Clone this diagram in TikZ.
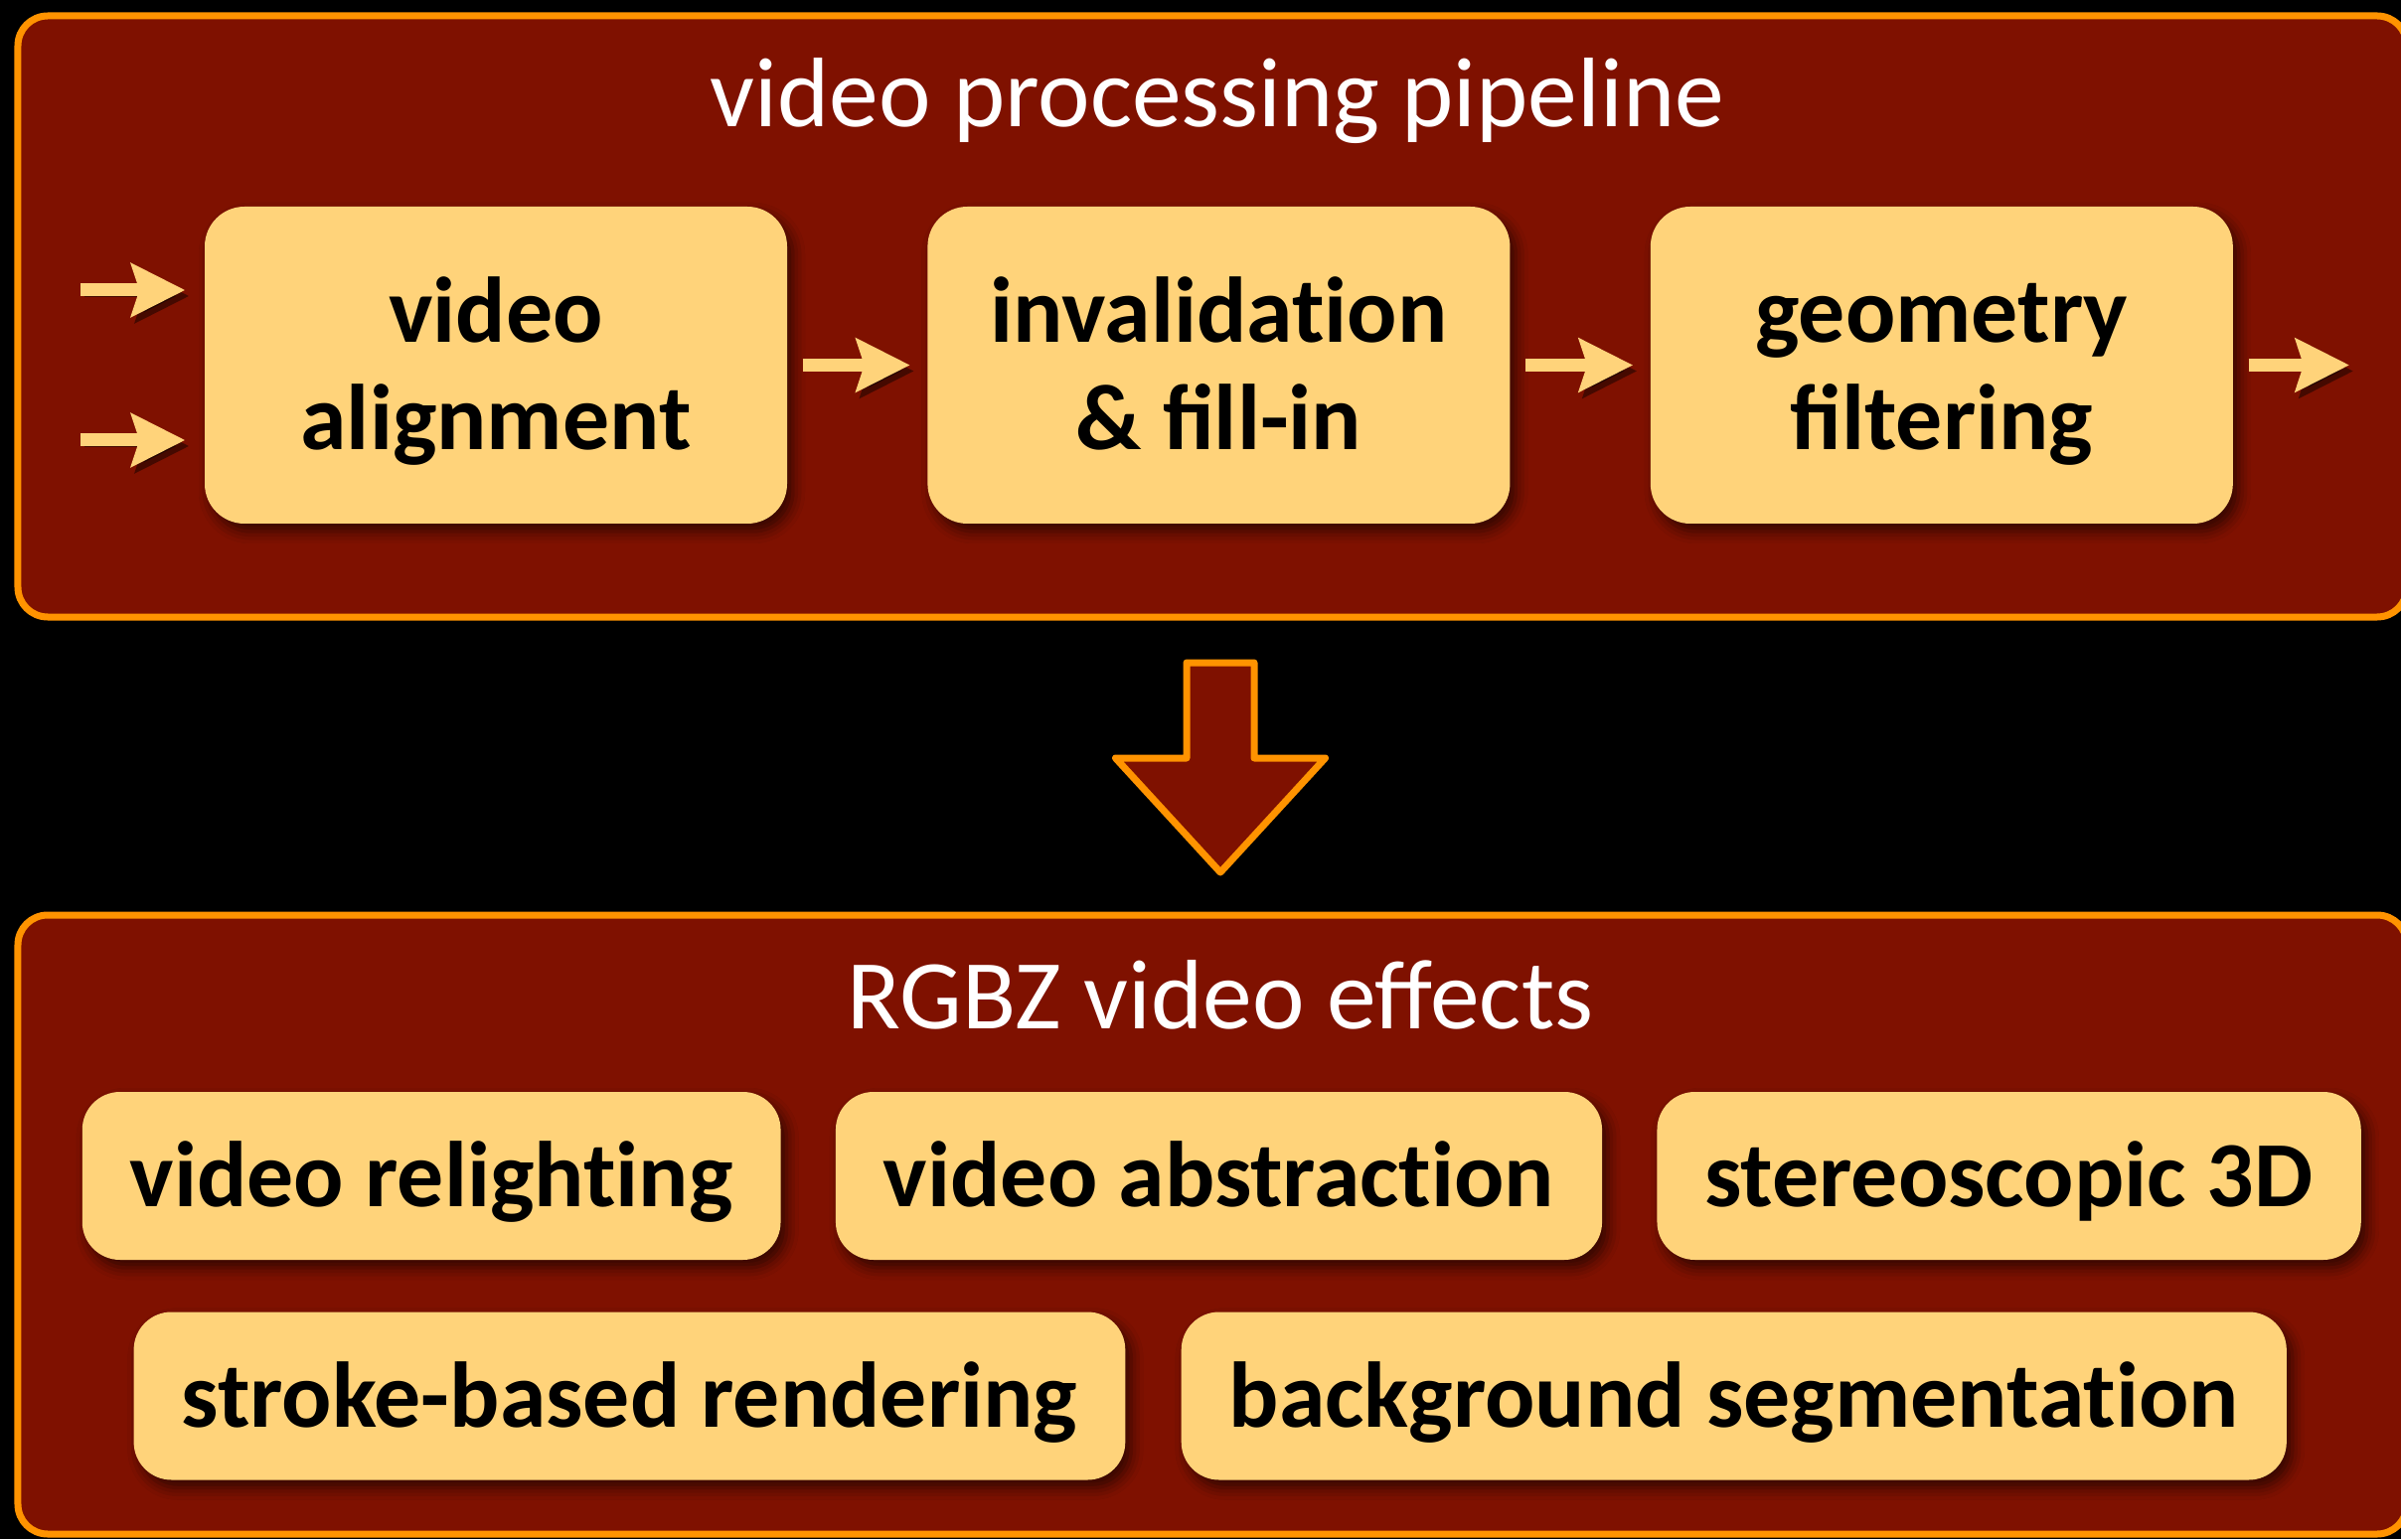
\documentclass[tikz,border=0pt]{standalone}
\usepackage{fontspec}
\setmainfont{Carlito}
\usetikzlibrary{arrows.meta,
  calc,
  positioning,
  shadows.blur
}
\definecolor{panelred}{RGB}{127,17,0}
\definecolor{rimorange}{RGB}{255,147,0}
\definecolor{boxyellow}{RGB}{255,211,122}
\newcommand{\nolig}{\kern0pt}

\tikzstyle{panel} = [draw=rimorange, fill=panelred, line width=0.07cm,
  rounded corners=0.3cm]
\tikzstyle{paneltitle} = [text=white, anchor=base,
  font=\fontsize{28.3pt}{34pt}\selectfont]
\tikzstyle{stage} = [fill=boxyellow, rounded corners=0.4cm, inner sep=0,
  minimum width=5.86cm, minimum height=3.19cm, align=center,
  font=\fontsize{26.7pt}{1.08cm}\selectfont\bfseries,
  text height=1.92cm, text depth=0.22cm,
  blur shadow={shadow xshift=0.06cm, shadow yshift=-0.08cm,
    shadow blur radius=0.12cm, shadow opacity=60}]
\tikzstyle{effect} = [stage, minimum width=0, minimum height=1.69cm,
  inner xsep=0.48cm, rounded corners=0.38cm,
  text height=0.84cm, text depth=0.22cm]
\tikzstyle{flow} = [draw=boxyellow, line width=0.13cm,
  -{Stealth[length=0.54cm, width=0.53cm, inset=0.08cm]},
  preaction={draw=black, opacity=0.45,
    transform canvas={shift={(0.04,-0.06)}}}]
\tikzstyle{bigarrow} = [draw=rimorange, fill=panelred, line width=0.07cm,
  line join=round]

\begin{document}
\begin{tikzpicture}
  \path[fill=black, use as bounding box] (0,0) rectangle (24.16,15.49);

  % pipeline panel
  \draw[panel] (0.18,9.28) rectangle (24.22,15.33);
  \node[paneltitle] (pipetitle) at (12.25,14.21) {video processing pipeline};

  \node[stage] (align) at (4.99,11.815) {video\\alignment};
  \node[stage, right=1.40cm of align] (fill) {invalidat\nolig ion\\\& fill-in};
  \node[stage, right=1.40cm of fill] (geom) {geometry\\filtering};

  \coordinate (in1) at (0.81,12.57);
  \coordinate (in2) at (0.81,11.06);
  \coordinate (out) at (23.64,11.815);
  \draw[flow, shorten >=0.19cm] (in1) -- (align.west |- in1);
  \draw[flow, shorten >=0.19cm] (in2) -- (align.west |- in2);
  \draw[flow, shorten <=0.15cm, shorten >=0.17cm] (align) -- (fill);
  \draw[flow, shorten <=0.15cm, shorten >=0.17cm] (fill) -- (geom);
  \draw[flow, shorten <=0.15cm] (geom) -- (out);

  % big arrow down
  \coordinate (down) at (12.28,8.82);
  \draw[bigarrow, shift={(down)}] (-0.34,0) -- (-0.34,-0.96) -- (-1.055,-0.96)
    -- (0,-2.11) -- (1.055,-0.96) -- (0.34,-0.96) -- (0.34,0) -- cycle;

  % effects panel
  \draw[panel] (0.18,0.05) rectangle (24.22,6.28);
  \node[paneltitle] (fxtitle) at (12.28,5.14) {RGBZ video effects};

  \node[effect] (abstr) at (12.265,3.655) {video abstract\nolig ion};
  \node[effect, left=0.54cm of abstr] (relight) {video relight\nolig ing};
  \node[effect, right=0.54cm of abstr] (stereo) {stereoscopic 3D};

  \coordinate (row2) at (11.605,1.44);
  \node[effect, left=0.275cm of row2] (stroke) {stroke-based rendering};
  \node[effect, right=0.275cm of row2] (bgseg) {background segmentat\nolig ion};
\end{tikzpicture}
\end{document}
